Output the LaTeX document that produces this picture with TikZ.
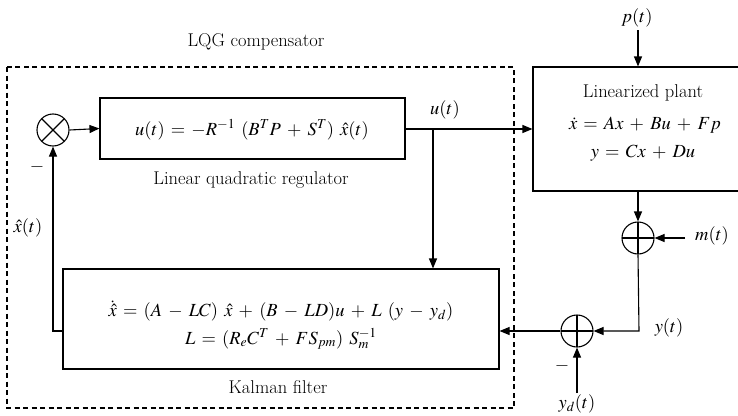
\documentclass[tikz,border=0pt]{standalone}
\usepackage{mathptmx}
\usetikzlibrary{arrows.meta}
\tikzset{
  line/.style={line width=1.1pt},
  arr/.style={line width=1.1pt,-{Triangle[length=10pt,width=8pt]}},
  blk/.style={draw,line width=1.1pt,inner sep=0pt},
  junc/.style={draw,line width=1.1pt,circle,minimum size=32pt,inner sep=0pt},
  lbl/.style={inner sep=1pt},
}
\medmuskip=6mu plus 2mu minus 2mu
\thickmuskip=6mu plus 3mu
\begin{document}
\begin{tikzpicture}[x=1pt,y=-1pt,font=\fontsize{18.5}{22}\selectfont]
\clip (0,0) rectangle (738,415);
\useasboundingbox (0,0) rectangle (738,415);
% dashed compensator frame
\draw[line width=1.1pt,dash pattern=on 5pt off 3.5pt] (7,67) rectangle (514,408);
\node[lbl] (lqgl) at (256,42) {LQG compensator};
% blocks
\node[blk,minimum width=305pt,minimum height=61pt] (lqr) at (252.5,128.5) {};
\node[lbl] (lqrt) at (252,130) {$u(t) = -R^{-1}\;(B^TP + S^T)\;\hat{x}(t)$};
\node[lbl] (lqrl) at (251,180) {Linear quadratic regulator};
\node[blk,minimum width=220pt,minimum height=124pt] (plant) at (643,129) {};
\node[lbl] (plt1) at (643,93) {Linearized plant};
\node[lbl] (plt2) at (645,125) {$\dot{x} = Ax + Bu + Fp$};
\node[lbl] (plt3) at (643,153) {$y = Cx + Du$};
\node[blk,minimum width=436pt,minimum height=100pt] (kal) at (281,319) {};
\node[lbl] (kal1) at (281,311) {$\dot{\hat{x}} = (A - LC)\;\hat{x} + (B - LD)u + L\;(y - y_d)$};
\node[lbl] (kal2) at (281,339) {$L = (R_eC^T + FS_{pm})\;S_m^{-1}$};
\node[lbl] (kall) at (278,387) {Kalman filter};
% junctions
\node[junc,path picture={\draw[line width=1.1pt] (path picture bounding box.north west)--(path picture bounding box.south east) (path picture bounding box.north east)--(path picture bounding box.south west);}] (mult) at (53,130) {};
\node[junc,path picture={\draw[line width=1.1pt] (path picture bounding box.north)--(path picture bounding box.south) (path picture bounding box.west)--(path picture bounding box.east);}] (sum1) at (638,238) {};
\node[junc,path picture={\draw[line width=1.1pt] (path picture bounding box.north)--(path picture bounding box.south) (path picture bounding box.west)--(path picture bounding box.east);}] (sum2) at (577,331) {};
% signal labels
\node[lbl] (ul) at (445,110) {$u(t)$};
\node[lbl] (pl) at (637,18) {$p(t)$};
\node[lbl] (ml) at (712,236) {$m(t)$};
\node[lbl] (yl) at (669,328) {$y(t)$};
\node[lbl] (ydl) at (577,404) {$y_d(t)$};
\node[lbl] (xhl) at (28,228) {$\hat{x}(t)$};
\node[lbl] (min1) at (37,167) {$-$};
\node[lbl] (min2) at (562,366) {$-$};
% coordinates
\coordinate (br) at (433,129);
\coordinate (ptop) at (638,30);
\coordinate (mst) at (685,238);
\coordinate (yc) at (639,331);
\coordinate (ydst) at (577,393);
\coordinate (fb) at (53,331);
% connectors
\draw[arr] (mult.east) -- (lqr.west);
\draw[arr] (lqr.east |- br) -- (plant.west |- br);
\draw[arr] (br) -- (br |- kal.north);
\draw[arr] (ptop) -- (ptop |- plant.north);
\draw[arr] (sum1.north |- plant.south) -- (sum1.north);
\draw[arr] (mst) -- (sum1.east);
\draw[arr] (sum1.south) -- (yc) -- (sum2.east);
\draw[arr] (sum2.west) -- (kal.east |- sum2);
\draw[arr] (ydst) -- (sum2.south);
\draw[arr] (kal.west |- fb) -- (fb) -- (mult.south);
\end{tikzpicture}
\end{document}
